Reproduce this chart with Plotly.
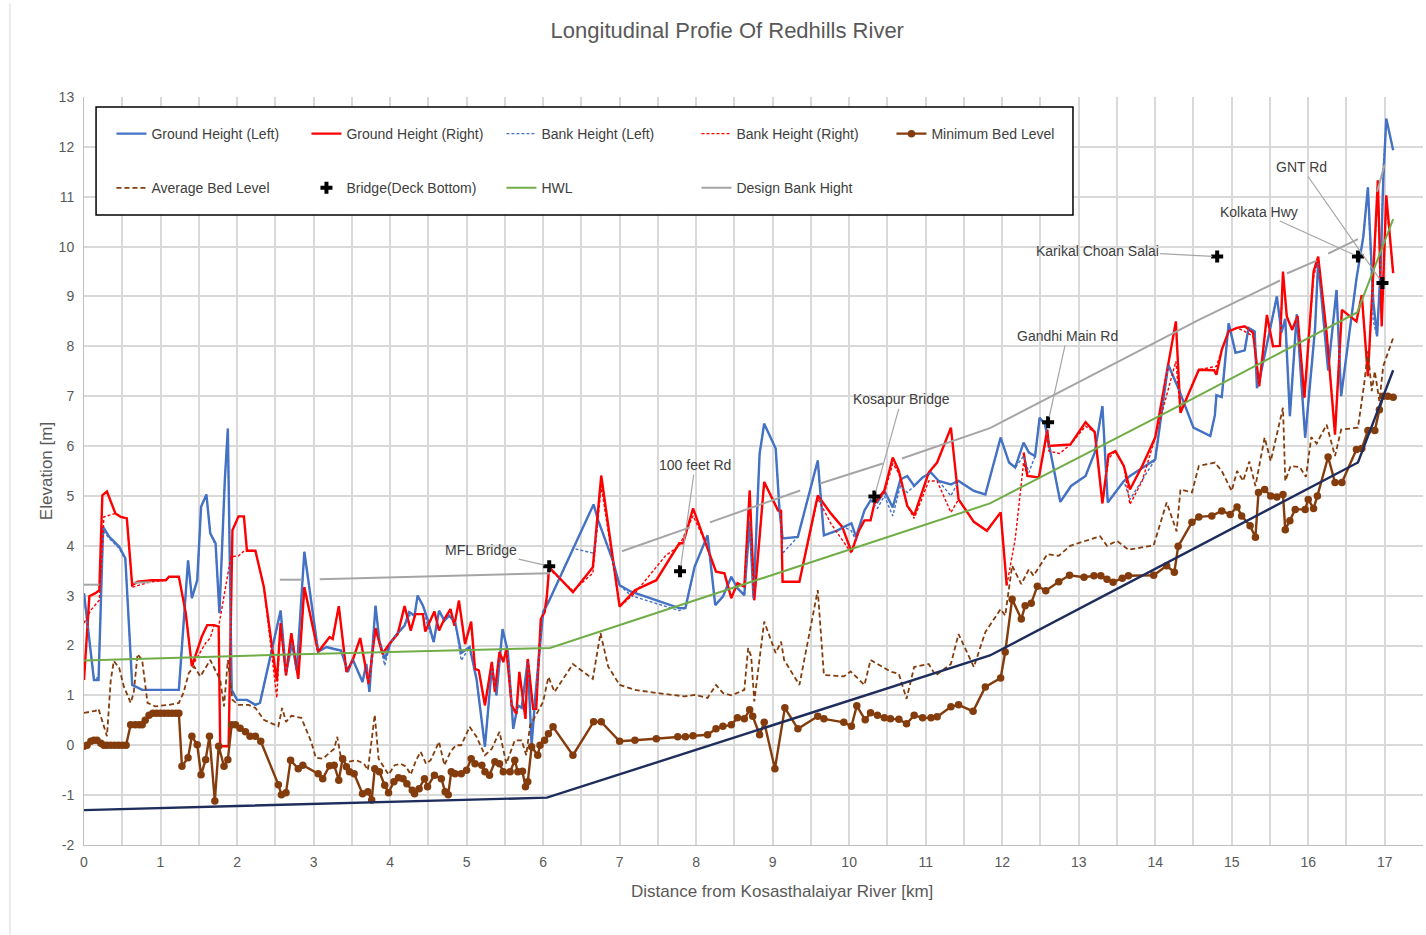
import plotly.graph_objects as go

# ---------------- data ----------------
GL_KM = [0.00, 0.13, 0.19, 0.25, 0.33, 0.46, 0.54, 0.63, 0.76, 1.24, 1.36, 1.41, 1.48, 1.53, 1.60, 1.65, 1.72, 1.77,
         1.84, 1.88, 1.93, 2.00, 2.13, 2.24, 2.30, 2.57, 2.64, 2.72, 2.78, 2.88, 3.06, 3.17, 3.27, 3.36, 3.45, 3.51,
         3.64, 3.69, 3.73, 3.81, 3.86, 3.93, 4.01, 4.09, 4.19, 4.25, 4.32, 4.36, 4.43, 4.49, 4.57, 4.64, 4.71, 4.77,
         4.85, 4.93, 5.04, 5.13, 5.24, 5.33, 5.39, 5.47, 5.54, 5.61, 5.67, 5.72, 5.80, 5.85, 5.90, 6.00, 6.07, 6.13,
         6.66, 6.72, 6.91, 7.00, 7.15, 7.78, 7.86, 7.98, 8.15, 8.25, 8.35, 8.46, 8.54, 8.63, 8.70, 8.75, 8.83, 8.89,
         9.04, 9.09, 9.13, 9.33, 9.59, 9.67, 9.85, 9.93, 10.03, 10.09, 10.20, 10.28, 10.37, 10.46, 10.57, 10.67,
         10.76, 10.85, 10.96, 11.07, 11.17, 11.33, 11.43, 11.63, 11.78, 11.98, 12.09, 12.17, 12.28, 12.35, 12.43,
         12.49, 12.56, 12.76, 12.90, 13.09, 13.21, 13.31, 13.38, 13.59, 13.67, 14.00, 14.17, 14.30, 14.50, 14.72,
         14.78, 14.80, 14.87, 14.96, 15.05, 15.17, 15.22, 15.30, 15.33, 15.37, 15.59, 15.65, 15.70, 15.76, 15.85,
         15.96, 16.09, 16.13, 16.26, 16.37, 16.43, 16.63, 16.72, 16.78, 16.85, 16.90, 16.95, 16.98, 17.02, 17.11]
GL_M = [3.05, 1.31, 1.31, 4.38, 4.18, 3.98, 3.75, 1.21, 1.11, 1.11, 3.71, 2.95, 3.31, 4.78, 5.03, 4.25, 4.05, 2.65,
        5.31, 6.35, 1.11, 0.91, 0.91, 0.81, 0.85, 2.70, 1.45, 2.05, 1.50, 3.88, 1.88, 1.97, 1.93, 1.90, 1.47, 1.73,
        1.27, 1.63, 1.07, 2.80, 2.10, 1.73, 2.07, 2.23, 2.40, 2.67, 2.60, 3.00, 2.80, 2.53, 2.07, 2.70, 2.50, 2.60,
        2.47, 1.85, 1.97, 1.33, -0.03, 1.57, 1.00, 2.33, 1.87, 0.33, 0.80, 0.75, 1.70, 0.00, 1.00, 2.67, 2.87, 3.07,
        4.83, 4.51, 3.71, 3.21, 3.08, 2.75, 2.75, 3.58, 4.21, 2.81, 2.98, 3.38, 3.15, 3.01, 4.50, 2.95, 5.85, 6.45,
        5.95, 4.71, 4.15, 4.18, 5.71, 4.21, 4.31, 4.38, 4.45, 4.18, 4.71, 4.91, 4.87, 5.10, 4.77, 5.33,
        5.40, 5.20, 5.37, 5.47, 5.30, 5.23, 5.30, 5.10, 5.03, 6.17, 5.67, 5.57, 6.07, 5.87, 5.80,
        6.57, 6.43, 4.88, 5.20, 5.40, 5.87, 6.80, 4.87, 5.30, 5.40, 5.73, 7.63, 7.17, 6.37, 6.20,
        6.62, 7.02, 6.98, 8.46, 7.87, 7.92, 8.37, 8.30, 7.16, 7.38, 9.00, 8.28, 8.55, 6.60, 8.64,
        6.17, 8.37, 9.71, 7.52, 9.13, 7.00, 9.35, 10.20, 11.19, 8.90, 8.20, 9.70, 11.30, 12.57, 11.93]

GR_KM = [0.00, 0.07, 0.15, 0.20, 0.24, 0.30, 0.41, 0.48, 0.56, 0.63, 0.70, 0.89, 1.07, 1.11, 1.24, 1.33, 1.41, 1.54,
         1.61, 1.70, 1.76, 1.78, 1.89, 1.94, 2.02, 2.09, 2.13, 2.24, 2.35, 2.52, 2.57, 2.64, 2.71, 2.80, 2.88, 3.06,
         3.14, 3.21, 3.25, 3.33, 3.43, 3.51, 3.61, 3.72, 3.81, 3.90, 3.99, 4.10, 4.19, 4.27, 4.33, 4.43, 4.46, 4.58,
         4.64, 4.71, 4.79, 4.84, 4.90, 4.98, 5.06, 5.11, 5.16, 5.24, 5.33, 5.37, 5.43, 5.48, 5.52, 5.59, 5.65, 5.69,
         5.77, 5.80, 5.87, 5.91, 5.97, 6.02, 6.05, 6.08, 6.39, 6.65, 6.76, 6.91, 7.00, 7.20, 7.48, 7.78, 7.83, 7.96,
         8.11, 8.26, 8.37, 8.46, 8.54, 8.63, 8.70, 8.76, 8.89, 9.07, 9.11, 9.13, 9.35, 9.59, 9.76, 9.91, 10.03,
         10.13, 10.20, 10.28, 10.33, 10.46, 10.57, 10.65, 10.76, 10.85, 11.04, 11.15, 11.33, 11.43, 11.63, 11.80,
         11.98, 12.06, 12.17, 12.28, 12.33, 12.48, 12.59, 12.61, 12.89, 13.09, 13.21, 13.31, 13.39, 13.48, 13.59,
         13.67, 13.83, 14.00, 14.27, 14.33, 14.57, 14.77, 14.80, 14.87, 14.96, 15.07, 15.17, 15.28, 15.36, 15.46,
         15.54, 15.63, 15.67, 15.72, 15.79, 15.86, 15.95, 16.07, 16.13, 16.24, 16.35, 16.44, 16.63, 16.70, 16.78,
         16.85, 16.91, 16.96, 17.02, 17.11]
GR_M = [1.31, 2.99, 3.05, 3.11, 5.01, 5.09, 4.65, 4.58, 4.55, 3.21, 3.28, 3.31, 3.31, 3.38, 3.38, 2.65, 1.58, 2.18,
        2.41, 2.41, 2.38, -0.02, -0.02, 4.31, 4.59, 4.59, 3.90, 3.90, 3.18, 1.28, 2.45, 1.40, 2.25, 1.33, 3.17, 1.87,
        2.03, 2.17, 2.13, 2.79, 1.47, 1.70, 2.15, 1.23, 2.35, 1.83, 2.03, 2.23, 2.79, 2.30, 2.63, 2.63, 2.28, 2.68,
        2.30, 2.53, 2.73, 2.40, 2.90, 2.03, 2.48, 1.53, 1.50, 0.80, 1.67, 1.07, 1.87, 1.67, 1.93, 0.80, 0.63, 1.47,
        0.53, 1.73, 0.73, 0.73, 2.53, 2.67, 3.00, 3.57, 3.07, 3.57, 5.41, 3.71, 2.78, 3.11, 3.31, 4.05, 4.05, 4.75,
        4.11, 3.48, 3.45, 2.95, 3.25, 3.18, 5.11, 2.91, 5.28, 4.71, 4.70, 3.28, 3.28, 5.01, 4.65, 4.38, 3.88,
        4.31, 4.51, 4.51, 4.85, 5.11, 5.77, 5.50, 4.80, 4.61, 5.47, 5.67, 6.37, 4.93, 4.48, 4.30,
        4.67, 3.20, None, 5.87, 5.40, 5.37, 6.33, 6.00, 6.03, 6.48, 6.28, 4.85, 5.83, 5.90, 5.60,
        5.13, 5.60, 6.17, 8.50, 6.67, 7.53, 7.52, 7.43, 7.93, 8.30, 8.37, 8.40, 8.27, 7.20, 8.63,
        8.00, 8.01, 9.50, 8.60, 8.33, 8.61, 6.97, 9.50, 9.80, 8.27, 6.23, 8.73, 8.50, 9.03, 7.40,
        9.47, 11.33, 8.40, 11.03, 9.47]

BL_KM = [0.00, 0.13, 0.19, 0.25, 0.33, 0.46, 0.54, 0.63, 0.76, 1.24, 1.36, 1.41, 1.48, 1.53, 1.60, 1.65, 1.72, 1.77,
         1.84, 1.88, 1.93, 2.00, 2.13, 2.24, 2.30, 2.57, 2.64, 2.72, 2.78, 2.88, 3.06, 3.17, 3.27, 3.36, 3.45, 3.51,
         3.64, 3.69, 3.73, 3.81, 3.86, 3.93, 4.01, 4.09, 4.19, 4.25, 4.32, 4.36, 4.43, 4.49, 4.57, 4.64, 4.71, 4.77,
         4.85, 4.93, 5.04, 5.13, 5.24, 5.33, 5.39, 5.47, 5.54, 5.61, 5.67, 5.72, 5.80, 5.85, 5.90, 6.00, 6.07, 6.13,
         6.39, 6.66, 6.72, 6.91, 7.00, 7.15, 7.78, 7.86, 7.98, 8.15, 8.25, 8.35, 8.46, 8.54, 8.63, 8.70, 8.75, 8.83,
         8.89, 9.04, 9.09, 9.13, 9.33, 9.59, 9.67, 9.85, 9.93, 10.03, 10.09, 10.20, 10.28, 10.37, 10.46, 10.57,
         10.67, 10.76, 10.85, 10.96, 11.07, 11.17, 11.33, 11.43, 11.63, 11.78, 11.98, 12.09, 12.17, 12.28, 12.35,
         12.43, 12.49, 12.56, 12.76, 12.90, 13.09, 13.21, 13.31, 13.38, 13.59, 13.67, 14.00, 14.17, 14.30, 14.50,
         14.72, 14.78, 14.80, 14.87, 14.96, 15.05, 15.17, 15.22, 15.30, 15.33, 15.37, 15.59, 15.65, 15.70, 15.76,
         15.85, 15.96, 16.09, 16.13, 16.26, 16.37, 16.43, 16.63, 16.72, 16.78, 16.85, 16.90, 16.95, 16.98, 17.02]
BL_M = [3.00, 1.35, 1.35, 4.30, 4.15, 3.95, 3.72, 1.21, 1.11, 1.11, 3.71, 2.95, 3.31, 4.78, 5.03, 4.25, 4.00, 2.65,
        5.31, 6.35, 1.11, 0.91, 0.91, 0.81, 0.85, 2.70, 1.45, 2.05, 1.50, 3.88, 1.88, 1.97, 1.93, 1.90, 1.47, 1.73,
        1.27, 1.63, 1.07, 2.80, 2.10, 1.60, 2.07, 2.23, 2.40, 2.60, 2.60, 3.00, 2.80, 2.40, 2.07, 2.70, 2.50, 2.60,
        2.47, 1.70, 1.97, 1.33, -0.03, 1.57, 1.00, 2.33, 1.87, 0.33, 0.80, 0.75, 1.70, 0.00, 1.00, 2.67, 2.87, 3.07,
        3.95, 3.85, 4.51, 3.71, 3.21, 3.00, 2.70, 2.75, 3.58, 4.21, 2.81, 2.98, 3.38, 3.15, 3.01, 4.50, 2.95, 5.85,
        6.45, 5.95, 4.71, 3.85, 4.18, 5.71, 4.21, 4.31, 4.38, 4.30, 4.10, 4.71, 4.91, 4.75, 5.00, 4.60,
        5.20, 5.07, 5.20, 5.37, 5.47, 5.30, 5.00, 5.30, 5.10, 5.03, 6.17, 5.67, 5.57, 5.80, 5.47,
        5.80, 6.57, 6.43, 4.88, 5.20, 5.40, 5.87, 6.80, 4.87, 5.30, 4.93, 5.73, 7.63, 7.17, 6.37,
        6.20, 6.62, 7.02, 6.98, 8.46, 7.87, 7.92, 8.37, 8.30, 7.16, 7.38, 9.00, 8.28, 8.55, 6.60,
        8.64, 6.17, 8.37, 9.71, 7.52, 9.13, 7.00, 9.35, 10.20, 11.19, 8.50, 8.20, 9.70, 11.60, 12.45]

BR_KM = [0.00, 0.09, 0.20, 0.26, 0.41, 0.48, 0.56, 0.63, 0.70, 0.85, 1.07, 1.11, 1.24, 1.33, 1.41, 1.54, 1.59, 1.65,
         1.70, 1.76, 1.92, 2.02, 2.11, 2.24, 2.35, 2.52, 2.57, 2.64, 2.71, 2.80, 2.88, 3.06, 3.14, 3.21, 3.25, 3.33,
         3.43, 3.51, 3.61, 3.72, 3.81, 3.90, 3.99, 4.10, 4.19, 4.27, 4.33, 4.43, 4.46, 4.58, 4.64, 4.71, 4.79, 4.84,
         4.90, 4.98, 5.06, 5.11, 5.16, 5.24, 5.33, 5.37, 5.43, 5.48, 5.52, 5.59, 5.65, 5.69, 5.77, 5.80, 5.87, 5.91,
         5.97, 6.02, 6.05, 6.07, 6.39, 6.65, 6.76, 6.91, 7.00, 7.20, 7.60, 7.78, 7.96, 8.11, 8.26, 8.37, 8.46, 8.54,
         8.63, 8.70, 8.76, 8.89, 9.07, 9.11, 9.13, 9.35, 9.59, 9.76, 10.03, 10.13, 10.20, 10.28, 10.33, 10.46,
         10.57, 10.65, 10.76, 10.85, 11.04, 11.15, 11.33, 11.43, 11.63, 11.80, 11.98, 12.06, 12.11, 12.17, 12.28,
         12.33, 12.48, 12.59, 12.61, 12.75, 12.89, 13.09, 13.21, 13.31, 13.39, 13.48, 13.59, 13.67, 13.83, 14.00,
         14.27, 14.33, 14.57, 14.77, 14.80, 14.87, 14.96, 15.07, 15.17, 15.28, 15.36, 15.46, 15.54, 15.63, 15.67,
         15.72, 15.79, 15.86, 15.95, 16.07, 16.13, 16.24, 16.35, 16.44, 16.63, 16.70, 16.78, 16.85, 16.91, 16.96,
         17.02, 17.11]
BR_M = [2.45, 2.71, 2.91, 4.58, 4.65, 4.58, 4.55, 3.17, 3.20, 3.27, 3.31, 3.38, 3.38, 2.65, 1.58, 1.90, 2.05, 2.15,
        2.41, 2.38, 3.78, 3.80, 3.92, 3.90, 3.18, 0.95, 2.45, 1.40, 2.25, 1.33, 3.17, 1.87, 2.03, 2.17, 2.13, 2.79,
        1.47, 1.70, 2.15, 1.23, 2.35, 1.83, 2.03, 2.23, 2.79, 2.30, 2.63, 2.63, 2.28, 2.68, 2.30, 2.53, 2.73, 2.40,
        2.90, 2.03, 2.48, 1.53, 1.50, 0.80, 1.67, 1.07, 1.87, 1.67, 1.93, 0.80, 0.63, 1.47, 0.53, 1.73, 0.73, 0.73,
        2.53, 2.67, 2.90, 3.55, 3.10, 3.45, 5.20, 3.71, 2.78, 3.05, 3.80, 4.00, 4.60, 4.11, 3.48, 3.45, 2.95, 3.25,
        3.18, 5.11, 2.91, 5.28, 4.71, 4.70, 3.28, 3.28, 4.95, 4.45, 3.85, 4.31, 4.51, 4.51, 4.85, 5.05,
        5.65, 5.45, 4.80, 4.55, 5.30, 5.30, 4.67, 4.93, 4.48, 4.30, 4.67, 3.20, 3.60, 4.13, 5.67,
        5.40, 5.37, 6.25, 5.90, 5.85, 6.03, 6.40, 6.28, 4.85, 5.75, 5.90, 5.60, 4.83, 5.30, 6.17,
        7.70, 6.67, 7.53, 7.60, 7.60, 7.93, 8.30, 8.37, 8.30, 8.20, 7.20, 8.55, 8.00, 8.01, 9.40,
        8.60, 8.33, 8.61, 6.97, 9.40, 9.75, 8.27, 6.30, 8.73, 8.50, 9.03, 7.40, 9.40, 11.20, 8.50,
        10.90, 9.47]

MIN_KM = [0.00, 0.04, 0.09, 0.13, 0.17, 0.22, 0.26, 0.30, 0.35, 0.40, 0.45, 0.50, 0.55, 0.61, 0.67, 0.72, 0.76, 0.80,
          0.85, 0.90, 0.95, 1.00, 1.05, 1.10, 1.15, 1.20, 1.24, 1.28, 1.36, 1.41, 1.48, 1.53, 1.59, 1.64, 1.71, 1.76,
          1.83, 1.88, 1.93, 1.98, 2.04, 2.11, 2.17, 2.24, 2.31, 2.54, 2.58, 2.64, 2.70, 2.80, 2.86, 3.06, 3.12, 3.21,
          3.27, 3.33, 3.38, 3.43, 3.47, 3.53, 3.64, 3.71, 3.76, 3.80, 3.86, 3.93, 3.98, 4.05, 4.11, 4.17, 4.22, 4.29,
          4.32, 4.38, 4.45, 4.49, 4.58, 4.67, 4.72, 4.76, 4.80, 4.85, 4.93, 5.00, 5.06, 5.11, 5.20, 5.24, 5.30, 5.37,
          5.43, 5.48, 5.57, 5.63, 5.67, 5.73, 5.77, 5.80, 5.85, 5.93, 5.96, 6.02, 6.07, 6.13, 6.39, 6.66, 6.76, 7.00,
          7.20, 7.48, 7.76, 7.86, 7.96, 8.15, 8.26, 8.35, 8.46, 8.54, 8.63, 8.70, 8.74, 8.83, 8.89, 9.03, 9.16, 9.33,
          9.59, 9.67, 9.93, 10.03, 10.10, 10.21, 10.28, 10.37, 10.46, 10.54, 10.65, 10.75, 10.85, 10.96, 11.07,
          11.15, 11.33, 11.43, 11.62, 11.78, 11.98, 12.04, 12.13, 12.25, 12.30, 12.38, 12.46, 12.57, 12.74, 12.88,
          13.07, 13.20, 13.29, 13.37, 13.45, 13.57, 13.65, 13.98, 14.15, 14.25, 14.30, 14.48, 14.57, 14.74, 14.87,
          14.98, 15.07, 15.13, 15.24, 15.31, 15.35, 15.43, 15.51, 15.59, 15.67, 15.70, 15.76, 15.83, 15.96, 16.00,
          16.07, 16.12, 16.26, 16.35, 16.44, 16.63, 16.70, 16.78, 16.87, 16.93, 16.98, 17.04, 17.11]
MIN_M = [-0.02, 0.00, 0.08, 0.10, 0.10, 0.04, 0.00, 0.00, 0.00, 0.00, 0.00, 0.00, 0.00, 0.41, 0.41, 0.41, 0.41, 0.50,
         0.60, 0.64, 0.64, 0.64, 0.64, 0.64, 0.64, 0.64, 0.64, -0.42, -0.25, 0.18, 0.01, -0.59, -0.29, 0.18, -1.12,
         -0.02, -0.42, -0.29, 0.41, 0.41, 0.34, 0.27, 0.18, 0.18, 0.08, -0.79, -0.99, -0.95, -0.30, -0.47, -0.40,
         -0.57, -0.67, -0.41, -0.40, -0.70, -0.27, -0.43, -0.53, -0.57, -0.97, -0.93, -1.10, -0.47, -0.53, -0.80,
         -0.95, -0.73, -0.65, -0.67, -0.77, -0.90, -0.97, -0.87, -0.67, -0.83, -0.60, -0.67, -0.93, -0.99, -0.53,
         -0.57, -0.57, -0.50, -0.27, -0.37, -0.40, -0.53, -0.60, -0.33, -0.37, -0.53, -0.53, -0.30, -0.53, -0.52,
         -0.83, -0.73, -0.03, -0.20, 0.00, 0.10, 0.23, 0.37, -0.20, 0.47, 0.47, 0.08, 0.10, 0.13, 0.17, 0.17, 0.19,
         0.21, 0.33, 0.38, 0.41, 0.55, 0.53, 0.71, 0.58, 0.21, 0.46, -0.47, 0.75, 0.33, 0.58, 0.53, 0.46, 0.38,
         0.79, 0.51, 0.65, 0.60, 0.55, 0.53, 0.52, 0.43, 0.60, 0.55, 0.55, 0.57, 0.77, 0.81, 0.68, 1.17, 1.35,
         1.87, 2.93, 2.53, 2.80, 2.85, 3.19, 3.10, 3.28, 3.41, 3.37, 3.40, 3.40, 3.33, 3.27, 3.35, 3.40, 3.41,
         3.60, 3.47, 3.99, 4.47, 4.58, 4.60, 4.70, 4.63, 4.78, 4.60, 4.40, 4.17, 5.07, 5.13, 5.00, 4.98, 5.03,
         4.32, 4.50, 4.73, 4.73, 4.93, 4.75, 5.00, 5.78, 5.27, 5.27, 5.93, 5.95, 6.31, 6.31, 6.73, 7.00, 7.00, 6.98]

AVG_KM = [0.00, 0.15, 0.19, 0.24, 0.30, 0.35, 0.39, 0.46, 0.52, 0.61, 0.65, 0.70, 0.76, 0.83, 0.93, 1.11, 1.24, 1.30,
          1.37, 1.44, 1.52, 1.65, 1.72, 1.78, 1.83, 1.88, 1.94, 2.02, 2.15, 2.24, 2.35, 2.54, 2.59, 2.64, 2.71, 2.84,
          2.97, 3.03, 3.12, 3.19, 3.27, 3.31, 3.36, 3.45, 3.56, 3.66, 3.71, 3.80, 3.85, 3.98, 4.06, 4.14, 4.21, 4.27,
          4.34, 4.40, 4.47, 4.53, 4.64, 4.71, 4.79, 4.86, 4.93, 5.04, 5.13, 5.24, 5.33, 5.43, 5.52, 5.63, 5.72, 5.78,
          5.83, 5.93, 6.00, 6.07, 6.15, 6.39, 6.65, 6.75, 6.85, 7.00, 7.20, 7.48, 7.85, 7.98, 8.15, 8.26, 8.35, 8.46,
          8.63, 8.68, 8.72, 8.76, 8.89, 9.04, 9.11, 9.15, 9.35, 9.59, 9.67, 9.93, 10.02, 10.20, 10.28, 10.37, 10.54,
          10.65, 10.75, 10.85, 11.04, 11.13, 11.33, 11.43, 11.63, 11.78, 11.98, 12.04, 12.13, 12.25, 12.35, 12.41,
          12.59, 12.74, 12.89, 13.07, 13.28, 13.37, 13.50, 13.65, 13.98, 14.15, 14.28, 14.33, 14.48, 14.57, 14.78,
          14.87, 15.00, 15.07, 15.15, 15.23, 15.31, 15.43, 15.51, 15.67, 15.70, 15.77, 15.89, 15.97, 16.04, 16.11,
          16.24, 16.35, 16.43, 16.65, 16.73, 16.78, 16.83, 16.87, 16.93, 16.98, 17.11]
AVG_M = [0.65, 0.69, 0.73, 0.50, 0.18, 1.31, 1.69, 1.55, 1.18, 0.85, 1.05, 1.83, 1.71, 0.85, 0.78, 0.81, 0.85, 1.05,
         1.45, 1.58, 1.38, 1.71, 1.51, 1.31, 0.78, 1.71, 0.91, 0.81, 0.81, 0.75, 0.51, 0.38, 0.75, 0.47, 0.59, 0.55,
         0.07, -0.25, -0.27, -0.17, -0.07, 0.17, -0.27, -0.33, -0.30, -0.37, -0.50, 0.61, -0.27, -0.59, -0.40,
         -0.37, -0.43, -0.59, -0.30, -0.13, -0.37, -0.30, 0.07, -0.40, -0.13, 0.00, 0.00, 0.37, 0.17, -0.20, -0.07,
         0.27, -0.37, 0.10, 0.10, -0.20, 0.40, 0.67, 0.87, 1.37, 1.07, 1.63, 1.33, 2.25, 1.58, 1.21, 1.11, 1.05,
         0.98, 1.01, 0.95, 1.21, 1.05, 1.00, 1.11, 1.95, 1.78, 0.88, 2.48, 1.85, 2.08, 1.71, 1.21, 3.11, 1.41, 1.38,
         1.48, 1.21, 1.71, 1.63, 1.48, 1.43, 0.93, 1.57, 1.63, 1.40, 1.63, 2.23, 1.57, 2.27, 2.73, 2.60, 3.60, 3.23,
         3.53, 3.40, 3.83, 3.80, 4.00, 4.09, 4.19, 4.00, 4.10, 3.92, 4.01, 4.87, 4.29, 5.13, 5.07, 5.60, 5.67, 5.50,
         5.10, 5.50, 5.30, 5.69, 5.20, 6.17, 5.70, 6.77, 5.30, 5.60, 5.58, 5.38, 6.18, 6.05, 6.43, 5.80, 6.33, 6.37,
         7.23, 7.90, 7.10, 7.50, 6.90, 7.60, 8.17]

BRIDGE_KM = [6.08, 7.79, 10.33, 12.60, 14.81, 16.65, 16.97]
BRIDGE_M = [3.59, 3.49, 4.99, 6.48, 9.80, 9.80, 9.27]
BRIDGE_NAMES = ["MFL Bridge", "100 feet Rd", "Kosapur Bridge", "Gandhi Main Rd",
                "Karikal Choan Salai", "Kolkata Hwy", "GNT Rd"]
# label offset from each bridge marker, in pixels
LABEL_DX = [-68, 15, 27, 19, -120, -99, -81]
LABEL_DY = [-16, -106, -97, -86, -6, -45, -116]

HWL_KM = [0.00, 2.69, 6.09, 11.84, 14.33, 16.64, 17.11]
HWL_M = [1.70, 1.82, 1.95, 4.85, 6.82, 8.68, 10.55]

DBH_KM = [0.00, 0.20, None, 0.65, 0.87, None, 2.56, 2.85, None, 3.08, 5.01, 6.09, None, 7.03, 7.92, None,
          8.18, 9.36, None, 9.62, 10.44, None, 10.69, 11.84, 14.57, 15.63, None, 15.72, 16.11, None,
          16.26, 16.65, None, 16.90, 17.00]
DBH_M = [3.22, 3.22, None, 3.26, 3.27, None, 3.32, 3.32, None, 3.33, 3.41, 3.45, None, 3.89, 4.37, None,
         4.47, 5.11, None, 5.25, 5.65, None, 5.75, 6.36, 8.53, 9.32, None, 9.46, 9.72, None,
         9.86, 10.15, None, 11.10, 11.65]

BED_KM = [0.00, 6.05, 11.84, 16.65, 17.11]
BED_M = [-1.30, -1.05, 1.80, 5.67, 7.52]

Y_TICKS = list(range(-2, 14))
Y_LABELS = [str(v) for v in Y_TICKS]

# ---------------- styling ----------------
FONT = "Arial, Liberation Sans, sans-serif"
TXT = "#595959"
GRID = "#D9D9D9"
BROWN = "#843C0C"

fig = go.Figure()


def line(x, y, name, color, width, dash="solid", legend="legend", **kw):
    fig.add_trace(go.Scatter(x=x, y=y, name=name, mode=kw.pop("mode", "lines"),
                             line=dict(color=color, width=width, dash=dash),
                             legend=legend, **kw))


line(GL_KM, GL_M, "Ground Height (Left)", "#4472C4", 2.4)
line(GR_KM, GR_M, "Ground Height (Right)", "#FF0000", 2.4)
line(BL_KM, BL_M, "Bank Height (Left)", "#4472C4", 1.4, dash="3px,2px")
line(BR_KM, BR_M, "Bank Height (Right)", "#FF0000", 1.4, dash="3px,2px")
line(MIN_KM, MIN_M, "Minimum Bed Level", BROWN, 2.4, mode="lines+markers",
     marker=dict(size=7.5, color=BROWN))
line(AVG_KM, AVG_M, "Average Bed Level", BROWN, 1.8, dash="5px,3px", legend="legend2")
fig.add_trace(go.Scatter(x=BRIDGE_KM, y=BRIDGE_M, name="Bridge(Deck Bottom)", mode="markers",
                         marker=dict(symbol="cross", size=10, color="black"), legend="legend2"))
line(HWL_KM, HWL_M, "HWL", "#70AD47", 2.0, legend="legend2")
line(DBH_KM, DBH_M, "Design Bank Hight", "#A5A5A5", 2.0, legend="legend2")
line(BED_KM, BED_M, "Design Bed", "#1F2D5C", 2.4, showlegend=False)

for name, x, y, dx, dy in zip(BRIDGE_NAMES, BRIDGE_KM, BRIDGE_M, LABEL_DX, LABEL_DY):
    fig.add_annotation(x=x, y=y, text=name, showarrow=True, arrowhead=0, arrowwidth=1.2,
                       arrowcolor="#A6A6A6", ax=dx, ay=dy, standoff=5,
                       font=dict(family=FONT, size=14, color="#404040"))

# x-axis title, set slightly right of the plot centre
fig.add_annotation(xref="paper", yref="paper", x=0.5213, y=-0.0615, xanchor="center", yanchor="middle",
                   text="Distance from Kosasthalaiyar River [km]", showarrow=False,
                   font=dict(family=FONT, size=17, color=TXT))

# legend frame
fig.add_shape(type="rect", xref="paper", yref="paper", x0=0.009, x1=0.7386, y0=0.8422, y1=0.9866,
              line=dict(color="black", width=1.5), fillcolor="white", layer="above")
# chart frame edge
fig.add_shape(type="line", xref="paper", yref="paper", x0=-0.0553, x1=-0.0553, y0=-0.12, y1=1.125,
              line=dict(color=GRID, width=1))

legend_common = dict(orientation="h", entrywidth=150, entrywidthmode="pixels", bgcolor="rgba(0,0,0,0)",
                     font=dict(family=FONT, size=14, color="#404040"), xanchor="left", yanchor="middle",
                     itemclick=False, itemdoubleclick=False)

fig.update_layout(
    width=1426, height=935,
    margin=dict(l=84, r=3, t=97, b=90),
    paper_bgcolor="white", plot_bgcolor="white",
    font=dict(family=FONT, color=TXT),
    title=dict(text="Longitudinal Profie Of Redhills River", x=0.51, xref="container", y=0.968,
               yref="container", yanchor="middle", xanchor="center",
               font=dict(family=FONT, size=22, color=TXT)),
    legend=dict(x=0.0205, y=0.9505, **legend_common),
    legend2=dict(x=0.0205, y=0.878, **legend_common),
    xaxis=dict(range=[0, 17.5], tick0=0, dtick=1, showgrid=True, gridcolor=GRID, gridwidth=1.5,
               minor=dict(dtick=0.5, showgrid=True, gridcolor=GRID, gridwidth=1.5),
               showline=True, linecolor="#BFBFBF", zeroline=False, ticks="", ticklabelstandoff=4,
               tickfont=dict(family=FONT, size=14, color=TXT)),
    yaxis=dict(range=[-2, 13], tickmode="array", tickvals=Y_TICKS, ticktext=Y_LABELS,
               showgrid=True, gridcolor=GRID, gridwidth=1.5,
               showline=True, linecolor="#BFBFBF", zeroline=False, ticks="", ticklabelstandoff=6,
               tickfont=dict(family=FONT, size=14, color=TXT),
               title=dict(text="Elevation [m]", standoff=1,
                          font=dict(family=FONT, size=17, color=TXT))),
)

fig.write_html("out.html")
